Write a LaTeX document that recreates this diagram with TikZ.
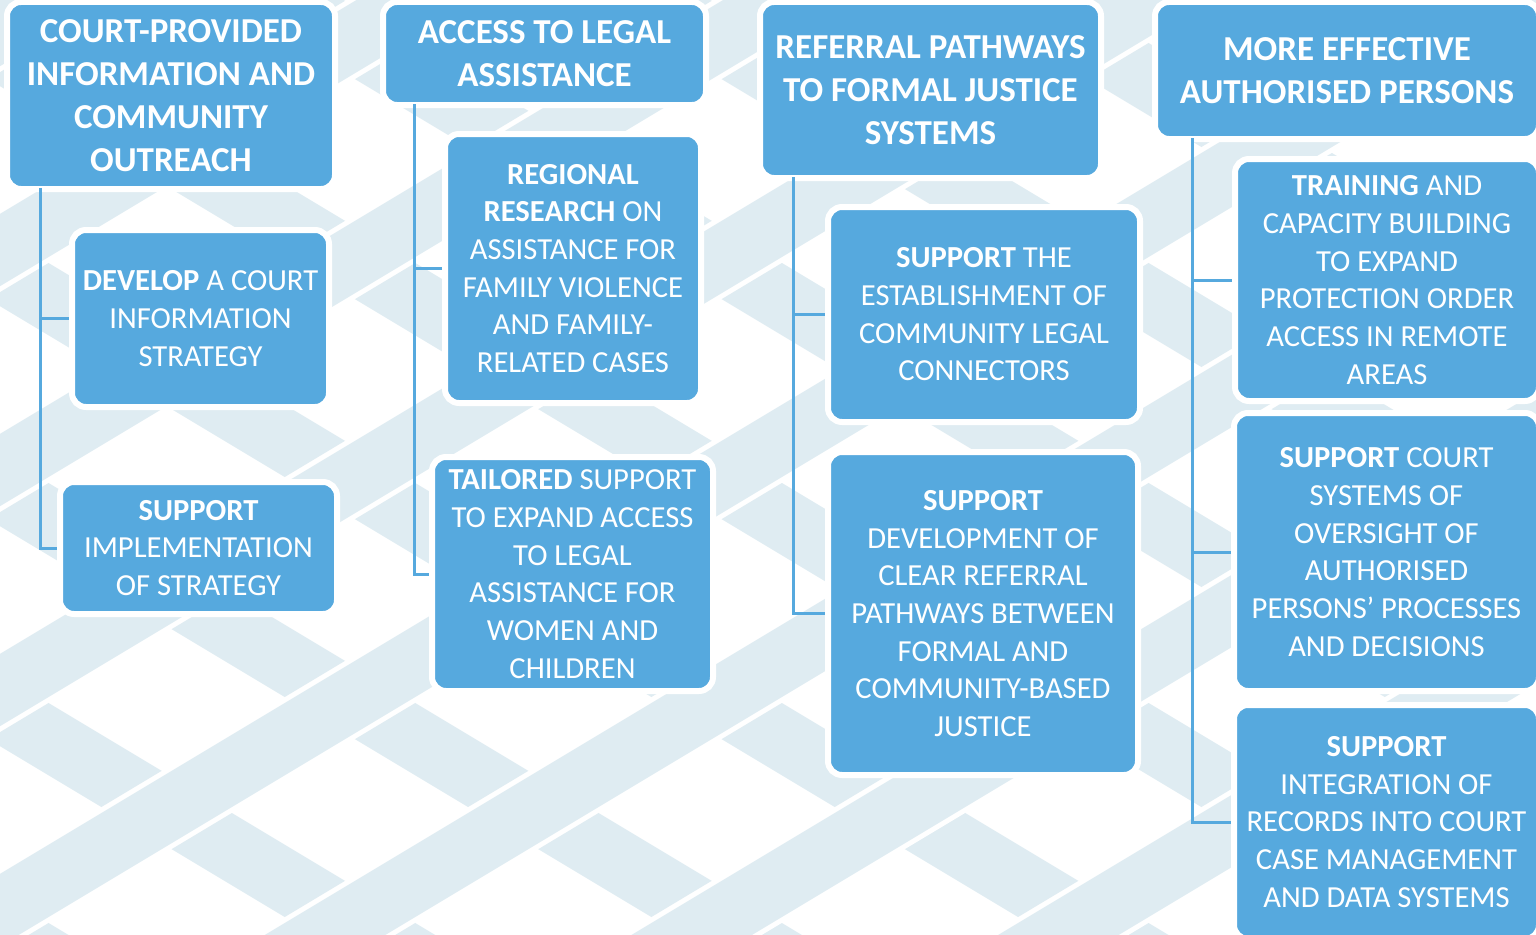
\documentclass[tikz,border=0pt]{standalone}
\usepackage{fontspec}
\setmainfont{Carlito}
\definecolor{boxblue}{RGB}{86,169,222}
\definecolor{bandc}{RGB}{223,236,242}
\tikzset{
  box/.style={fill=boxblue, draw=white, line width=6pt, rounded corners=14pt, inner sep=0pt,
    align=center, text=white, font=\fontsize{30.6}{37.7}\selectfont},
  titlebox/.style={box, font=\bfseries\fontsize{35}{43}\selectfont},
  conn/.style={draw=boxblue, line width=3pt},
  bandw/.style={draw=white, line width=72pt},
  bandf/.style={draw=bandc, line width=62pt}
}
\begin{document}
\begin{tikzpicture}[x=1pt,y=-1pt]
\useasboundingbox (0,0) rectangle (1536,934);
\fill[white] (0,0) rectangle (1536,934);
% background weave
\begin{scope}
\clip (0,0) rectangle (1536,934);
\foreach \c in {-1050,-830,...,980} {
  \draw[bandw] (-100,\c-60) -- (1700,\c+1020);
  \draw[bandf] (-100,\c-60) -- (1700,\c+1020);
}
\foreach \c in {30,250,...,2100} {
  \draw[bandw] (-100,\c+60) -- (1700,\c-1020);
  \draw[bandf] (-100,\c+60) -- (1700,\c-1020);
}
\end{scope}
% coordinates for connector trunks
\coordinate (ta0) at (40,188);
\coordinate (tb0) at (414,104);
\coordinate (tc0) at (793,177);
\coordinate (td0) at (1192,138);
% nodes
\node[titlebox, minimum width=328, minimum height=187] (TA) at (171,95.5) {COURT-PROVIDED\\INFORMATION AND\\COMMUNITY\\OUTREACH};
\node[box, minimum width=257, minimum height=177] (A1) at (200.5,318.5) {\textbf{DEVELOP} A COURT\\INFORMATION\\STRATEGY};
\node[box, minimum width=277, minimum height=132] (A2) at (198.5,548) {\textbf{SUPPORT}\\IMPLEMENTATION\\OF STRATEGY};
\node[titlebox, minimum width=323, minimum height=103] (TB) at (544.5,53.5) {ACCESS TO LEGAL\\ASSISTANCE};
\node[box, minimum width=256, minimum height=269] (B1) at (573,268.5) {\textbf{REGIONAL}\\\textbf{RESEARCH} ON\\ASSISTANCE FOR\\FAMILY VIOLENCE\\AND FAMILY-\\RELATED CASES};
\node[box, minimum width=281, minimum height=234] (B2) at (572.5,574) {\textbf{TAILORED} SUPPORT\\TO EXPAND ACCESS\\TO LEGAL\\ASSISTANCE FOR\\WOMEN AND\\CHILDREN};
\node[titlebox, minimum width=341, minimum height=176] (TC) at (930.5,90) {REFERRAL PATHWAYS\\TO FORMAL JUSTICE\\SYSTEMS};
\node[box, minimum width=312, minimum height=215] (C1) at (984,314.5) {\textbf{SUPPORT} THE\\ESTABLISHMENT OF\\COMMUNITY LEGAL\\CONNECTORS};
\node[box, minimum width=310, minimum height=323] (C2) at (983,613.5) {\textbf{SUPPORT}\\DEVELOPMENT OF\\CLEAR REFERRAL\\PATHWAYS BETWEEN\\FORMAL AND\\COMMUNITY-BASED\\JUSTICE};
\node[titlebox, minimum width=384, minimum height=137] (TD) at (1347,70.5) {MORE EFFECTIVE\\AUTHORISED PERSONS};
\node[box, minimum width=304, minimum height=242] (D1) at (1387,280) {\textbf{TRAINING} AND\\CAPACITY BUILDING\\TO EXPAND\\PROTECTION ORDER\\ACCESS IN REMOTE\\AREAS};
\node[box, minimum width=305, minimum height=278] (D2) at (1386.5,552) {\textbf{SUPPORT} COURT\\SYSTEMS OF\\OVERSIGHT OF\\AUTHORISED\\PERSONS’ PROCESSES\\AND DECISIONS};
\node[box, minimum width=305, minimum height=234] (D3) at (1386.5,822) {\textbf{SUPPORT}\\INTEGRATION OF\\RECORDS INTO COURT\\CASE MANAGEMENT\\AND DATA SYSTEMS};
% connectors
\draw[conn] (ta0) |- (A2.west);
\draw[conn] (ta0 |- A1.west) -- (A1.west);
\draw[conn] (tb0) |- (B2.west);
\draw[conn] (tb0 |- B1.west) -- (B1.west);
\draw[conn] (tc0) |- (C2.west);
\draw[conn] (tc0 |- C1.west) -- (C1.west);
\draw[conn] (td0) |- (D3.west);
\draw[conn] (td0 |- D1.west) -- (D1.west);
\draw[conn] (td0 |- D2.west) -- (D2.west);
\end{tikzpicture}
\end{document}
